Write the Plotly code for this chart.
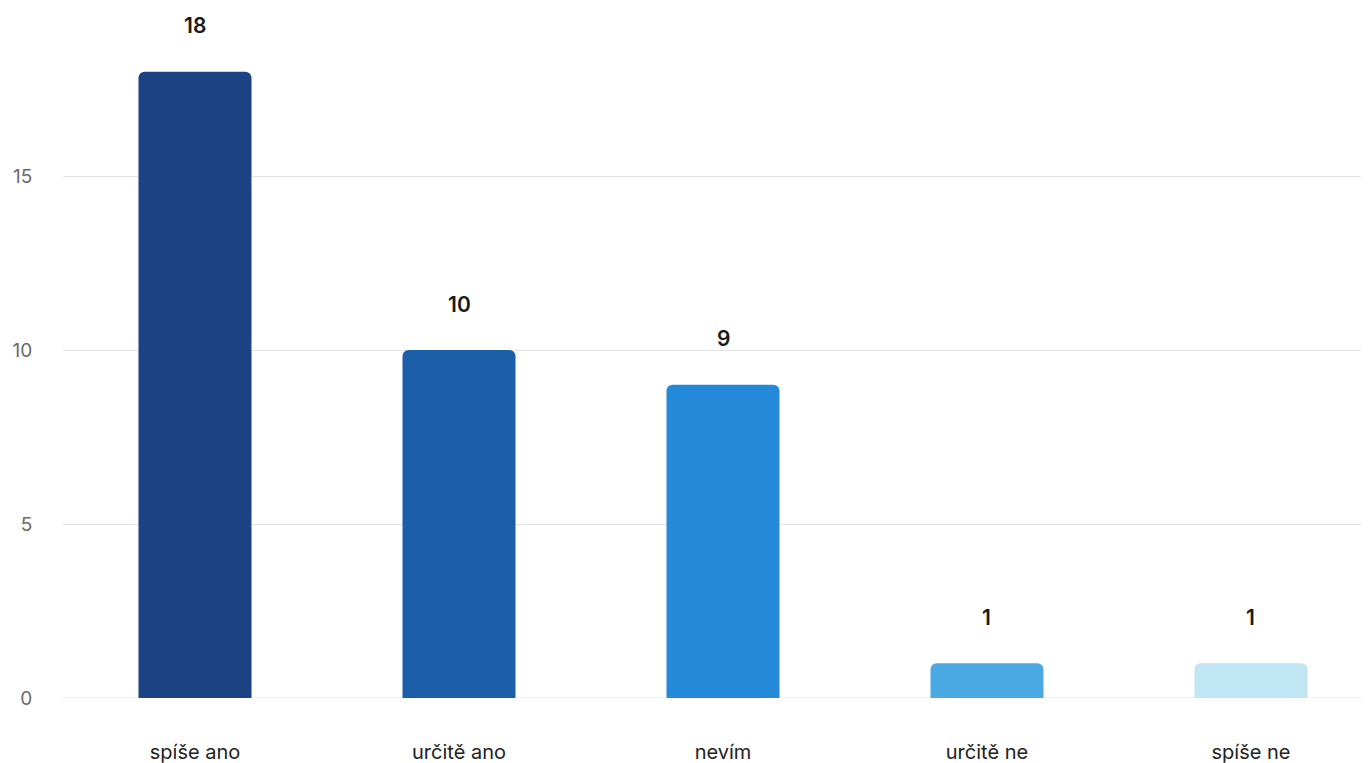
import plotly.graph_objects as go

categories = ["spíše ano", "určitě ano", "nevím", "určitě ne", "spíše ne"]
values = [18, 10, 9, 1, 1]
colors = ["#1b4283", "#1c5fa9", "#2389d8", "#4aa9e3", "#bfe6f2"]
y_ticks = [0, 5, 10, 15]

fig = go.Figure()
fig.add_trace(go.Bar(
    x=list(range(len(categories))),
    y=values,
    marker=dict(color=colors, cornerradius=6, line=dict(width=0)),
    width=0.428,
    hoverinfo="skip",
))

for i, v in enumerate(values):
    fig.add_annotation(
        x=i, y=v, text=str(v), showarrow=False, yshift=46,
        font=dict(family="Inter", size=21, color="#1a1a1a", weight=600),
    )

# page body has an 8px default margin; size the figure to fit the window
fig.update_layout(
    width=1361, height=755,
    margin=dict(l=55, r=0, t=0, b=65),
    paper_bgcolor="white", plot_bgcolor="white",
    showlegend=False,
    font=dict(family="Inter"),
)
fig.update_xaxes(
    range=[-0.5, 4.447],
    tickmode="array",
    tickvals=list(range(len(categories))),
    ticktext=categories,
    tickfont=dict(size=20, color="#222222"),
    showgrid=False, zeroline=False, showline=False,
    ticks="outside", ticklen=36, tickcolor="rgba(0,0,0,0)",
    automargin=False,
)
fig.update_yaxes(
    range=[0, 19.83],
    tickmode="array",
    tickvals=y_ticks,
    tickfont=dict(size=19, color="#6a6a6a"),
    showgrid=True, gridcolor="#e4e4e4", gridwidth=1,
    zeroline=False, showline=False,
    ticks="outside", ticklen=26, tickcolor="rgba(0,0,0,0)",
    automargin=False,
)
fig.add_hline(y=0, line=dict(color="#e4e4e4", width=1), layer="below")

fig.write_html("out.html")
